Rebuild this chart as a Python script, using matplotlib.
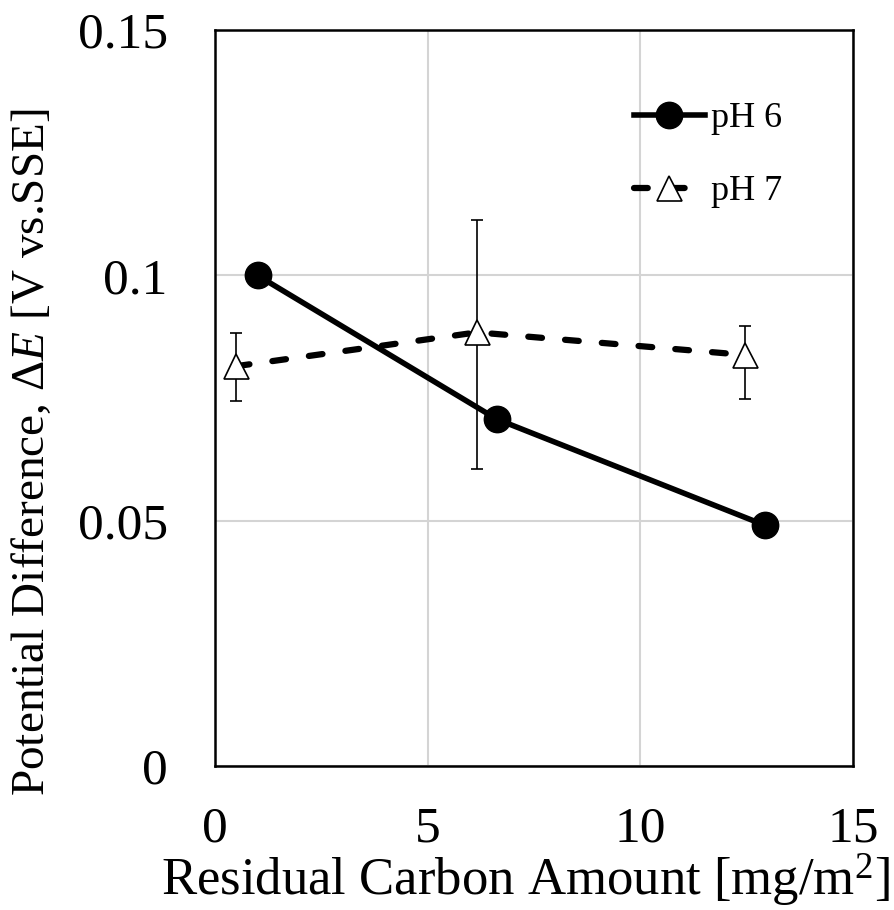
import numpy as np
import matplotlib.pyplot as plt

plt.rcParams['font.family'] = ['Liberation Serif', 'DejaVu Serif']
plt.rcParams['mathtext.fontset'] = 'custom'
plt.rcParams['mathtext.rm'] = 'Liberation Serif'
plt.rcParams['mathtext.it'] = 'Liberation Serif:italic'

# residual carbon [mg/m2] vs potential difference [V]
carbon_ph6 = [1.0, 6.63, 12.93]
de_ph6 = [0.100, 0.0707, 0.0491]

carbon_ph7 = [0.49, 6.16, 12.46]
de_ph7 = [0.0815, 0.0884, 0.0838]
err_ph7_low = [0.0071, 0.0278, 0.0090]
err_ph7_high = [0.0067, 0.0229, 0.0059]

xticks = [0, 5, 10, 15]
yticks = [0, 0.05, 0.1, 0.15]
yticklabels = ['0', '0.05', '0.1', '0.15']

fig = plt.figure(figsize=(8.94, 9.10), dpi=100)
ax = fig.add_axes([0.2405, 0.158, 0.7135, 0.809])

ax.plot(carbon_ph6, de_ph6, '-o', color='black', lw=4, ms=19, label='pH 6', zorder=3)
ax.errorbar(carbon_ph7, de_ph7, yerr=[err_ph7_low, err_ph7_high], fmt='none',
            ecolor='black', elinewidth=1.2, capsize=4.5, capthick=1.2, zorder=2)
ax.plot(carbon_ph7, de_ph7, '--^', color='black', lw=4.5, ms=18,
        markerfacecolor='white', markeredgecolor='black', markeredgewidth=1.2,
        dashes=(2.2, 3.7), dash_capstyle='round', label='pH 7', zorder=4)

ax.set_xlim(0, 15)
ax.set_ylim(0, 0.15)
ax.set_xticks(xticks)
ax.set_yticks(yticks)
ax.set_yticklabels(yticklabels)
ax.tick_params(length=0, labelsize=37)
ax.tick_params(axis='x', pad=29)
ax.tick_params(axis='y', pad=34)
ax.grid(True, color='#d4d4d4', lw=1.5)
ax.set_axisbelow(True)
for s in ax.spines.values():
    s.set_linewidth(1.8)
    s.set_color('black')

ax.set_xlabel(r'Residual Carbon Amount [mg/m$^2$]', fontsize=38)
ax.set_ylabel(r'Potential Difference, $\mathit{ΔE}$ [V vs.SSE]', fontsize=34)
ax.xaxis.set_label_coords(0.486, -0.116)
ax.yaxis.set_label_coords(-0.252, 0.427)

ax.legend(loc='upper left', bbox_to_anchor=(0.657, 0.902), frameon=False, fontsize=26,
          handlelength=1.95, labelspacing=1.1, handletextpad=0.17,
          borderaxespad=0, borderpad=0)

fig.savefig('out.png', dpi=100)
